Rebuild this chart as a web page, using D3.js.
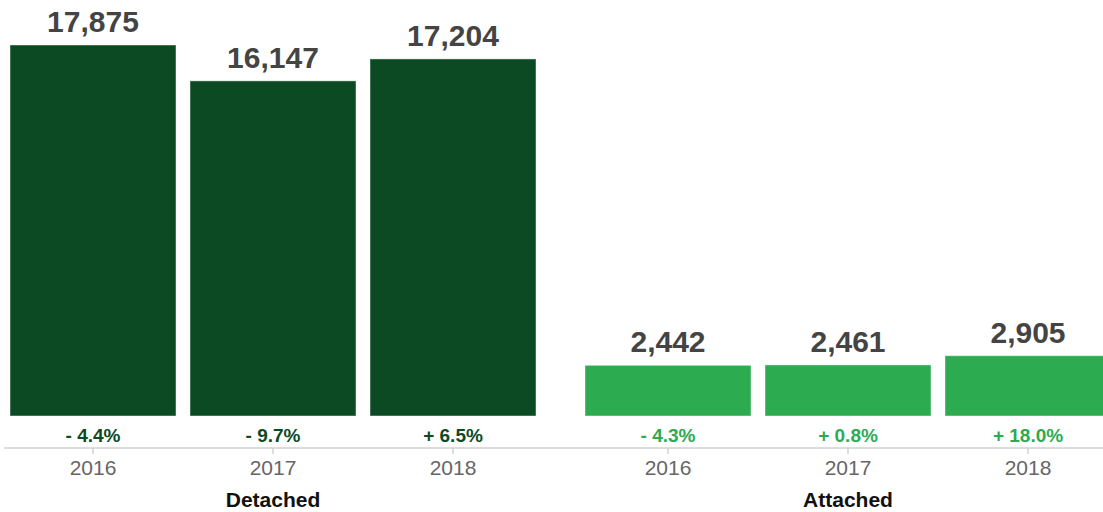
<!DOCTYPE html>
<html>
<head>
<meta charset="utf-8">
<script src="https://cdn.jsdelivr.net/npm/d3@7"></script>
<style>
  html, body { margin: 0; padding: 0; background: #fff; }
  svg { display: block; font-family: "Liberation Sans", Arial, Helvetica, sans-serif; }
</style>
</head>
<body>
<svg id="chart" width="1103" height="512"></svg>
<script>
// Home types and years
const groups = ["Detached", "Attached"];
const years = ["2016", "2017", "2018"];

// Sales counts per year for each home type
const detachedValues = [17875, 16147, 17204];
const attachedValues = [2442, 2461, 2905];

// Year-over-year change labels
const detachedChange = ["- 4.4%", "- 9.7%", "+ 6.5%"];
const attachedChange = ["- 4.3%", "+ 0.8%", "+ 18.0%"];

const groupColors = { Detached: "#0c4a24", Attached: "#2dab51" };

const rows = groups.flatMap(g => {
  const vals = g === "Detached" ? detachedValues : attachedValues;
  const chg = g === "Detached" ? detachedChange : attachedChange;
  return years.map((y, i) => ({ group: g, year: y, value: vals[i], change: chg[i] }));
});

const svg = d3.select("#chart");
const baseY = 416;
const axisY = 448;

const x0 = d3.scaleBand()
  .domain(groups)
  .range([3, 1118])
  .paddingInner(35 / 575)
  .paddingOuter(0);

const x1 = d3.scaleBand()
  .domain(years)
  .range([0, x0.bandwidth()])
  .paddingInner(14 / 180)
  .paddingOuter(7 / 180);

const y = d3.scaleLinear()
  .domain([0, 17875])
  .range([baseY, 45]);

const g = svg.append("g");

// Bars
g.selectAll("rect.bar")
  .data(rows)
  .join("rect")
  .attr("class", "bar")
  .attr("x", d => x0(d.group) + x1(d.year))
  .attr("width", x1.bandwidth())
  .attr("y", d => y(d.value))
  .attr("height", d => baseY - y(d.value))
  .attr("fill", d => groupColors[d.group])
  .attr("stroke", "rgba(255,255,255,0.45)")
  .attr("stroke-width", 1);

// Value labels above bars
g.selectAll("text.value")
  .data(rows)
  .join("text")
  .attr("class", "value")
  .attr("x", d => x0(d.group) + x1(d.year) + x1.bandwidth() / 2)
  .attr("y", d => y(d.value) - 13)
  .attr("text-anchor", "middle")
  .attr("font-size", 30)
  .attr("font-weight", "bold")
  .attr("fill", "#444")
  .text(d => d3.format(",")(d.value));

// Change labels under bars
g.selectAll("text.change")
  .data(rows)
  .join("text")
  .attr("class", "change")
  .attr("x", d => x0(d.group) + x1(d.year) + x1.bandwidth() / 2)
  .attr("y", 442)
  .attr("text-anchor", "middle")
  .attr("font-size", 19)
  .attr("font-weight", "bold")
  .attr("fill", d => groupColors[d.group])
  .text(d => d.change);

// Axis baseline
svg.append("line")
  .attr("x1", 4).attr("x2", 1103)
  .attr("y1", axisY).attr("y2", axisY)
  .attr("stroke", "#d0d0d0")
  .attr("stroke-width", 1.5);

// Year axes for each group
groups.forEach(grp => {
  const axis = d3.axisBottom(x1).tickSize(6).tickPadding(6);
  const ag = svg.append("g")
    .attr("transform", `translate(${x0(grp)},${axisY})`)
    .call(axis);
  ag.select(".domain").remove();
  ag.selectAll(".tick line").attr("stroke", "#d0d0d0").attr("stroke-width", 1.5);
  ag.selectAll(".tick text")
    .attr("font-size", 21)
    .attr("font-family", "\"Liberation Sans\", Arial, Helvetica, sans-serif")
    .attr("fill", "#666");
});

// Group names
svg.selectAll("text.group")
  .data(groups)
  .join("text")
  .attr("class", "group")
  .attr("x", d => x0(d) + x0.bandwidth() / 2)
  .attr("y", 507)
  .attr("text-anchor", "middle")
  .attr("font-size", 21)
  .attr("font-weight", "bold")
  .attr("fill", "#111")
  .text(d => d);
</script>
</body>
</html>
